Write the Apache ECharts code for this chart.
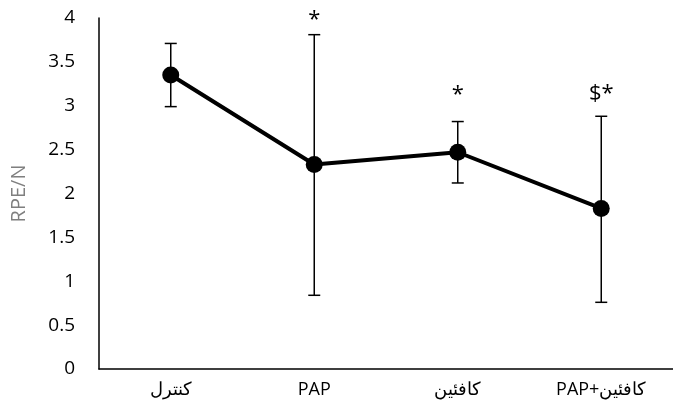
<!DOCTYPE html>
<html>
<head>
<meta charset="utf-8">
<script src="https://cdn.jsdelivr.net/npm/echarts@6/dist/echarts.min.js"></script>
<style>
  html, body { margin: 0; padding: 0; background: #fff; }
  #chart { width: 673px; height: 413px; }
</style>
</head>
<body>
<div id="chart"></div>
<script>
// Groups and mean RPE/N per group
const categories = ['کنترل', 'PAP', 'کافئین', 'PAP+کافئین'];
const means = [3.35, 2.33, 2.47, 1.83];
// Error bar ends (upper and lower)
const upper = [3.71, 3.81, 2.82, 2.88];
const lower = [2.99, 0.84, 2.12, 0.76];
// Significance marks and the axis value they sit at
const marks = ['', '*', '*', '$*'];
const markLevels = [0, 3.98, 3.12, 3.14];
const yTicks = [0, 0.5, 1, 1.5, 2, 2.5, 3, 3.5, 4];

const chart = echarts.init(document.getElementById('chart'));
const font = '"Open Sans", "Liberation Sans", sans-serif';

chart.setOption({
  animation: false,
  grid: { left: 99, top: 18, width: 580, bottom: 44 },
  xAxis: {
    type: 'category',
    data: categories,
    axisLine: { lineStyle: { color: '#000', width: 1.5 } },
    axisTick: { show: false },
    axisLabel: { color: '#000', fontSize: 18, fontFamily: font, margin: 12 }
  },
  yAxis: {
    type: 'value',
    min: yTicks[0],
    max: yTicks[yTicks.length - 1],
    interval: 0.5,
    name: 'RPE/N',
    nameLocation: 'middle',
    nameGap: 70,
    nameTextStyle: { color: '#7f7f7f', fontSize: 20, fontFamily: font },
    axisLine: { show: true, lineStyle: { color: '#000', width: 1.5 } },
    axisTick: { show: false },
    splitLine: { show: false },
    axisLabel: { color: '#000', fontSize: 19, fontFamily: font, margin: 24 }
  },
  series: [
    {
      type: 'custom',
      z: 1,
      data: categories.map((c, i) => [i, lower[i], upper[i]]),
      renderItem: function (params, api) {
        const x = api.value(0);
        const lo = api.coord([x, api.value(1)]);
        const hi = api.coord([x, api.value(2)]);
        const cap = 6;
        const style = { stroke: '#000', lineWidth: 1.5 };
        return {
          type: 'group',
          children: [
            { type: 'line', shape: { x1: hi[0], y1: hi[1], x2: lo[0], y2: lo[1] }, style },
            { type: 'line', shape: { x1: hi[0] - cap, y1: hi[1], x2: hi[0] + cap, y2: hi[1] }, style },
            { type: 'line', shape: { x1: lo[0] - cap, y1: lo[1], x2: lo[0] + cap, y2: lo[1] }, style }
          ]
        };
      }
    },
    {
      type: 'line',
      z: 2,
      data: means,
      symbol: 'circle',
      symbolSize: 17,
      lineStyle: { color: '#000', width: 4 },
      itemStyle: { color: '#000' }
    },
    {
      type: 'custom',
      z: 3,
      data: categories.map((c, i) => [i, markLevels[i], marks[i]]),
      renderItem: function (params, api) {
        const i = api.value(0);
        const p = api.coord([i, api.value(1)]);
        return {
          type: 'text',
          x: p[0],
          y: p[1],
          style: {
            text: marks[i],
            fill: '#000',
            font: '22px ' + font,
            textAlign: 'center',
            textVerticalAlign: 'middle'
          }
        };
      }
    }
  ]
});
</script>
</body>
</html>
